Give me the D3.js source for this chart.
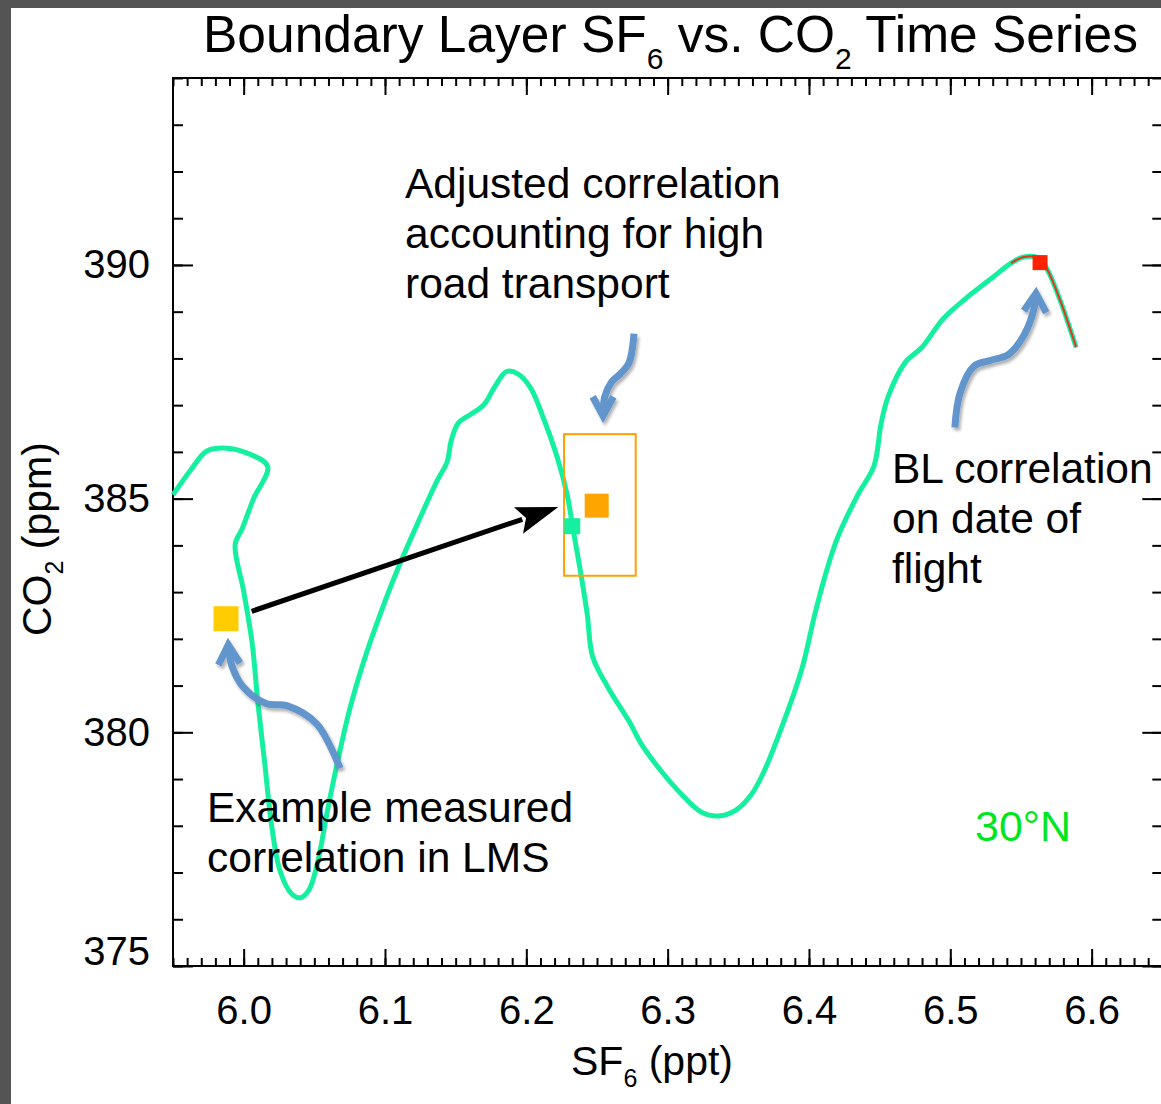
<!DOCTYPE html>
<html>
<head>
<meta charset="utf-8">
<script src="https://cdn.jsdelivr.net/npm/d3@7"></script>
<style>
  body { margin: 0; background: #fff; }
  svg { display: block; }
  text { font-family: "Liberation Sans", Arial, sans-serif; }
</style>
</head>
<body>
<svg id="chart" width="1161" height="1104"></svg>
<script>
// boundary layer trajectory, SF6 (ppt) vs CO2 (ppm)
var sf6 = [5.950, 5.962, 5.974, 5.988, 6.002, 6.017, 6.007, 5.999, 5.994, 6.000,
  6.006, 6.010, 6.015, 6.020, 6.026, 6.034, 6.040, 6.046, 6.052, 6.059,
  6.066, 6.075, 6.085, 6.094, 6.108, 6.125, 6.137, 6.144, 6.147, 6.152,
  6.161, 6.170, 6.178, 6.186, 6.194, 6.203, 6.212, 6.222, 6.229, 6.233,
  6.238, 6.243, 6.247, 6.258, 6.273, 6.282, 6.296, 6.309, 6.324, 6.336,
  6.348, 6.359, 6.368, 6.380, 6.395, 6.404, 6.412, 6.420, 6.434, 6.446,
  6.451, 6.456, 6.468, 6.480, 6.495, 6.512, 6.529, 6.543, 6.552, 6.563,
  6.569, 6.578, 6.589];
var co2 = [385.08, 385.59, 386.02, 386.08, 385.98, 385.69, 385.00, 384.36, 384.02, 383.02,
  381.91, 380.65, 379.31, 377.96, 377.01, 376.54, 376.46, 376.62, 377.17, 378.28,
  379.31, 380.49, 381.52, 382.31, 383.42, 384.60, 385.39, 385.79, 386.26, 386.62,
  386.81, 387.01, 387.41, 387.72, 387.67, 387.37, 386.73, 385.87, 385.07, 384.36,
  383.50, 382.55, 381.61, 380.95, 380.22, 379.72, 379.15, 378.70, 378.29, 378.21,
  378.33, 378.66, 379.15, 380.05, 381.36, 382.51, 383.41, 384.15, 385.05, 385.70,
  386.60, 387.18, 387.91, 388.24, 388.85, 389.31, 389.71, 390.04, 390.17, 390.14,
  389.88, 389.22, 388.24];
var flightStart = 67;   // index where the flight-date segment (red) begins

// square markers: measured LMS, adjusted, BL point, flight date
var markerSf6 = [5.9875, 6.2498, 6.2325, 6.5635];
var markerCo2 = [382.43, 384.85, 384.41, 390.05];

// uncertainty box around adjusted correlation
var boxSf6 = [6.2267, 6.2774];
var boxCo2 = [383.35, 386.38];

// black shift arrow
var shiftFrom = [6.0057, 382.59];
var shiftTo = [6.2226, 384.82];

// curly callout arrows (tail ... tip), then the two barbs
var callout1 = [[6.0682, 379.23], [6.0517, 380.18], [6.0305, 380.57], [6.0163, 380.61], [5.9997, 380.97], [5.9915, 381.44], [5.9891, 381.87]];
var barbs1 = [[5.9821, 381.44], [5.9974, 381.48]];
var callout2 = [[6.2762, 388.53], [6.2727, 387.91], [6.2665, 387.67], [6.2604, 387.50], [6.2555, 387.18], [6.2543, 386.77]];
var barbs2 = [[6.2470, 387.18], [6.2616, 387.18]];
var callout3 = [[6.5032, 386.52], [6.5069, 387.26], [6.5166, 387.83], [6.5288, 387.96], [6.5410, 388.08], [6.5520, 388.49], [6.5592, 389.06], [6.5606, 389.39]];
var barbs3 = [[6.5520, 389.02], [6.5679, 388.98]];

var xMajor = [6.0, 6.1, 6.2, 6.3, 6.4, 6.5, 6.6];
var yMajor = [375, 380, 385, 390];

var svg = d3.select('#chart');

var x = d3.scaleLinear().domain([5.95, 6.65]).range([173, 1162.3]);
var y = d3.scaleLinear().domain([375, 394]).range([966, 78]);

// dark frame on the left and top
svg.append('rect').attr('x', 0).attr('y', 0).attr('width', 1161).attr('height', 8).attr('fill', '#545454');
svg.append('rect').attr('x', 0).attr('y', 0).attr('width', 11).attr('height', 1104).attr('fill', '#545454');

var defs = svg.append('defs');
var shadow = defs.append('filter').attr('id', 'shadow').attr('x', '-20%').attr('y', '-20%').attr('width', '140%').attr('height', '140%');
shadow.append('feDropShadow').attr('dx', 2).attr('dy', 3).attr('stdDeviation', 1.5)
  .attr('flood-color', '#000').attr('flood-opacity', 0.3);

//////////////////////////////////////////////
// axes
//////////////////////////////////////////////
var xMinor = d3.range(5.95, 6.6501, 0.01).map(function (d) { return +d.toFixed(2); });
var yMinor = d3.range(375, 394.01, 1);

function styleAxis(g) {
  g.select('.domain').remove();
  g.selectAll('line').attr('stroke', '#000').attr('stroke-width', 2);
  g.selectAll('text').attr('font-family', '"Liberation Sans", Arial, sans-serif').attr('font-size', 40).attr('fill', '#000');
}

svg.append('g').attr('transform', 'translate(0,966)')
  .call(d3.axisBottom(x).tickValues(xMinor).tickSize(-8).tickFormat(''))
  .call(styleAxis);
svg.append('g').attr('transform', 'translate(0,966)')
  .call(d3.axisBottom(x).tickValues(xMajor).tickSize(-17).tickPadding(30).tickFormat(d3.format('.1f')))
  .call(styleAxis);
svg.append('g').attr('transform', 'translate(0,78)')
  .call(d3.axisTop(x).tickValues(xMinor).tickSize(-8).tickFormat(''))
  .call(styleAxis);
svg.append('g').attr('transform', 'translate(0,78)')
  .call(d3.axisTop(x).tickValues(xMajor).tickSize(-17).tickFormat(''))
  .call(styleAxis);

svg.append('g').attr('transform', 'translate(173,0)')
  .call(d3.axisLeft(y).tickValues(yMinor).tickSize(-10).tickFormat(''))
  .call(styleAxis);
var yAx = svg.append('g').attr('transform', 'translate(173,0)')
  .call(d3.axisLeft(y).tickValues(yMajor).tickSize(-20).tickPadding(23).tickFormat(d3.format('d')))
  .call(styleAxis);
// bottom label sits a little above the corner
yAx.selectAll('text').filter(function (d) { return d === 375; }).attr('y', -14);
svg.append('g').attr('transform', 'translate(1162.3,0)')
  .call(d3.axisRight(y).tickValues(yMinor).tickSize(-10).tickFormat(''))
  .call(styleAxis);
svg.append('g').attr('transform', 'translate(1162.3,0)')
  .call(d3.axisRight(y).tickValues(yMajor).tickSize(-20).tickFormat(''))
  .call(styleAxis);

svg.append('rect')
  .attr('x', x(5.95)).attr('y', y(394))
  .attr('width', x(6.65) - x(5.95)).attr('height', y(375) - y(394))
  .attr('fill', 'none').attr('stroke', '#000').attr('stroke-width', 2);

//////////////////////////////////////////////
// titles
//////////////////////////////////////////////
var title = svg.append('text').attr('x', 203).attr('y', 52).attr('font-size', 51.5).attr('fill', '#000');
title.append('tspan').text('Boundary Layer SF');
title.append('tspan').attr('font-size', 30).attr('dy', 17).text('6');
title.append('tspan').attr('dy', -17).text(' vs. CO');
title.append('tspan').attr('font-size', 30).attr('dy', 17).text('2');
title.append('tspan').attr('dy', -17).text(' Time Series');

var xt = svg.append('text').attr('x', 571).attr('y', 1075).attr('font-size', 41).attr('fill', '#000');
xt.append('tspan').text('SF');
xt.append('tspan').attr('font-size', 25).attr('dy', 12).text('6');
xt.append('tspan').attr('dy', -12).text(' (ppt)');

var yt = svg.append('text').attr('transform', 'translate(51,636) rotate(-90)').attr('font-size', 41).attr('fill', '#000');
yt.append('tspan').text('CO');
yt.append('tspan').attr('font-size', 25).attr('dy', 12).text('2');
yt.append('tspan').attr('dy', -12).text(' (ppm)');

//////////////////////////////////////////////
// data
//////////////////////////////////////////////
var pts = sf6.map(function (d, i) { return [d, co2[i]]; });
var line = d3.line().x(function (d) { return x(d[0]); }).y(function (d) { return y(d[1]); });

svg.append('path').datum(pts).attr('d', line.curve(d3.curveCatmullRom))
  .attr('fill', 'none').attr('stroke', '#14f0a0').attr('stroke-width', 5).attr('stroke-linejoin', 'round');
svg.append('path').datum(pts.slice(flightStart)).attr('d', line)
  .attr('fill', 'none').attr('stroke', '#e8331c').attr('stroke-width', 2).attr('stroke-linejoin', 'round');
line.curve(d3.curveLinear);

// box
svg.append('rect')
  .attr('x', x(boxSf6[0])).attr('y', y(boxCo2[1]))
  .attr('width', x(boxSf6[1]) - x(boxSf6[0])).attr('height', y(boxCo2[0]) - y(boxCo2[1]))
  .attr('fill', 'none').attr('stroke', '#ffa000').attr('stroke-width', 2);

// markers
var markerColor = ['#ffcc00', '#ffa500', '#14f0a0', '#ff2200'];
var markerSize = [25, 24, 16, 15];
svg.selectAll('.marker').data(markerSf6).enter().append('rect')
  .attr('class', 'marker')
  .attr('x', function (d, i) { return x(d) - markerSize[i] / 2; })
  .attr('y', function (d, i) { return y(markerCo2[i]) - markerSize[i] / 2; })
  .attr('width', function (d, i) { return markerSize[i]; })
  .attr('height', function (d, i) { return markerSize[i]; })
  .attr('fill', function (d, i) { return markerColor[i]; });

// black arrow
var ax1 = x(shiftFrom[0]), ay1 = y(shiftFrom[1]), ax2 = x(shiftTo[0]), ay2 = y(shiftTo[1]);
var ang = Math.atan2(ay2 - ay1, ax2 - ax1), headLen = 42, headW = 14;
var bx = ax2 - headLen * Math.cos(ang), by = ay2 - headLen * Math.sin(ang);
svg.append('line').attr('x1', ax1).attr('y1', ay1).attr('x2', bx + 4 * Math.cos(ang)).attr('y2', by + 4 * Math.sin(ang))
  .attr('stroke', '#000').attr('stroke-width', 5);
svg.append('path')
  .attr('d', 'M' + ax2 + ',' + ay2 +
    'L' + (bx - headW * Math.sin(ang)) + ',' + (by + headW * Math.cos(ang)) +
    'L' + (bx + 8 * Math.cos(ang)) + ',' + (by + 8 * Math.sin(ang)) +
    'L' + (bx + headW * Math.sin(ang)) + ',' + (by - headW * Math.cos(ang)) + 'Z')
  .attr('fill', '#000');

// blue callouts
var curly = d3.line().x(function (d) { return x(d[0]); }).y(function (d) { return y(d[1]); }).curve(d3.curveCatmullRom);
[[callout1, barbs1], [callout2, barbs2], [callout3, barbs3]].forEach(function (c) {
  var g = svg.append('g').attr('filter', 'url(#shadow)');
  var tip = c[0][c[0].length - 1];
  g.append('path').datum(c[0]).attr('d', curly)
    .attr('fill', 'none').attr('stroke', '#6495cd').attr('stroke-width', 7);
  g.append('path').datum([c[1][0], tip, c[1][1]]).attr('d', line)
    .attr('fill', 'none').attr('stroke', '#6495cd').attr('stroke-width', 7).attr('stroke-linejoin', 'miter');
});

//////////////////////////////////////////////
// annotations
//////////////////////////////////////////////
function note(lines, px, py) {
  var t = svg.append('text').attr('x', px).attr('y', py).attr('font-size', 42.5).attr('fill', '#000');
  lines.forEach(function (s, i) {
    t.append('tspan').attr('x', px).attr('dy', i ? 50 : 0).text(s);
  });
}
note(['Adjusted correlation', 'accounting for high', 'road transport'], 405, 198);
note(['BL correlation', 'on date of', 'flight'], 892, 483);
note(['Example measured', 'correlation in LMS'], 207, 822);

svg.append('text').attr('x', 975).attr('y', 841).attr('font-size', 43).attr('fill', '#00e61e').text('30°N');
</script>
</body>
</html>
